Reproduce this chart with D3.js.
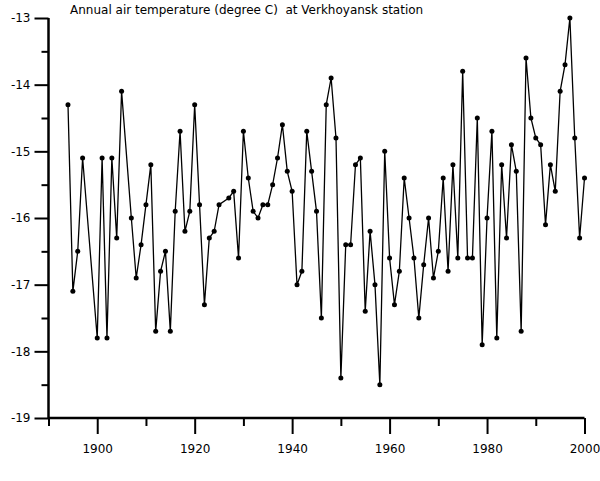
<!DOCTYPE html>
<html>
<head>
<meta charset="utf-8">
<script src="https://cdn.jsdelivr.net/npm/d3@7"></script>
<style>
  html, body { margin: 0; padding: 0; background: #fff; }
  svg { display: block; }
  text { font-family: "DejaVu Sans", Verdana, sans-serif; }
</style>
</head>
<body>
<svg id="chart" width="600" height="481"></svg>
<script>
const title = "Annual air temperature (degree C)  at Verkhoyansk station";

const years = [1894,1895,1896,1897,1900,1901,1902,1903,1904,1905,
  1907,1908,1909,1910,1911,1912,1913,1914,1915,1916,1917,1918,1919,1920,
  1921,1922,1923,1924,1925,1927,1928,1929,1930,1931,1932,1933,1934,1935,
  1936,1937,1938,1939,1940,1941,1942,1943,1944,1945,1946,1947,1948,1949,
  1950,1951,1952,1953,1954,1955,1956,1957,1958,1959,1960,1961,1962,1963,
  1964,1965,1966,1967,1968,1969,1970,1971,1972,1973,1974,1975,1976,1977,
  1978,1979,1980,1981,1982,1983,1984,1985,1986,1987,1988,1989,1990,1991,
  1992,1993,1994,1995,1996,1997,1998,1999,2000];

const temps = [-14.3,-17.1,-16.5,-15.1,-17.8,-15.1,-17.8,-15.1,-16.3,-14.1,
  -16.0,-16.9,-16.4,-15.8,-15.2,-17.7,-16.8,-16.5,-17.7,-15.9,-14.7,-16.2,-15.9,-14.3,
  -15.8,-17.3,-16.3,-16.2,-15.8,-15.7,-15.6,-16.6,-14.7,-15.4,-15.9,-16.0,-15.8,-15.8,
  -15.5,-15.1,-14.6,-15.3,-15.6,-17.0,-16.8,-14.7,-15.3,-15.9,-17.5,-14.3,-13.9,-14.8,
  -18.4,-16.4,-16.4,-15.2,-15.1,-17.4,-16.2,-17.0,-18.5,-15.0,-16.6,-17.3,-16.8,-15.4,
  -16.0,-16.6,-17.5,-16.7,-16.0,-16.9,-16.5,-15.4,-16.8,-15.2,-16.6,-13.8,-16.6,-16.6,
  -14.5,-17.9,-16.0,-14.7,-17.8,-15.2,-16.3,-14.9,-15.3,-17.7,-13.6,-14.5,-14.8,-14.9,
  -16.1,-15.2,-15.6,-14.1,-13.7,-13.0,-14.8,-16.3,-15.4];

const xMajorTicks = [1900,1920,1940,1960,1980,2000];
const xMinorTicks = [1890,1910,1930,1950,1970,1990];
const yMajorTicks = [-19,-18,-17,-16,-15,-14,-13];
const yMinorTicks = [-18.5,-17.5,-16.5,-15.5,-14.5,-13.5];

const data = years.map((y, i) => ({year: y, t: temps[i]}));

const svg = d3.select("#chart");
const x = d3.scaleLinear().domain([1890, 2000]).range([48.5, 584.5]);
const y = d3.scaleLinear().domain([-19, -13]).range([418, 18]);

const fmt = d => String(d);

// X axis
const gx = svg.append("g").attr("transform", "translate(0,418)");
gx.append("g").call(d3.axisBottom(x).tickValues(xMinorTicks).tickSize(8).tickFormat(""))
  .call(g => { g.select(".domain").remove(); g.selectAll("line").attr("stroke-width", 2).attr("stroke", "#000"); });
gx.append("g").call(d3.axisBottom(x).tickValues(xMajorTicks).tickSize(16).tickPadding(10).tickFormat(fmt))
  .call(g => {
    g.select(".domain").remove();
    g.selectAll("line").attr("stroke-width", 2).attr("stroke", "#000");
    g.selectAll("text").attr("font-size", 12).attr("fill", "#000")
      .style("font-family", '"DejaVu Sans", Verdana, sans-serif');
  });

// Y axis
const gy = svg.append("g").attr("transform", "translate(48.5,0)");
gy.append("g").call(d3.axisLeft(y).tickValues(yMinorTicks).tickSize(7).tickFormat(""))
  .call(g => { g.select(".domain").remove(); g.selectAll("line").attr("stroke-width", 2).attr("stroke", "#000"); });
gy.append("g").call(d3.axisLeft(y).tickValues(yMajorTicks).tickSize(14).tickPadding(4).tickFormat(fmt))
  .call(g => {
    g.select(".domain").remove();
    g.selectAll("line").attr("stroke-width", 2).attr("stroke", "#000");
    g.selectAll("text").attr("font-size", 12).attr("fill", "#000")
      .style("font-family", '"DejaVu Sans", Verdana, sans-serif');
  });

// Axis lines
svg.append("line").attr("x1", x(1890)).attr("x2", x(2000)).attr("y1", y(-19)).attr("y2", y(-19))
  .attr("stroke", "#000").attr("stroke-width", 2.5);
svg.append("line").attr("x1", x(1890)).attr("x2", x(1890)).attr("y1", y(-19)).attr("y2", y(-13))
  .attr("stroke", "#000").attr("stroke-width", 2.5);

// Line
const line = d3.line().x(d => x(d.year)).y(d => y(d.t));
svg.append("path").datum(data).attr("d", line)
  .attr("fill", "none").attr("stroke", "#000").attr("stroke-width", 1.3);

// Points
svg.append("g").selectAll("circle").data(data).join("circle")
  .attr("cx", d => x(d.year)).attr("cy", d => y(d.t)).attr("r", 2.5).attr("fill", "#000");

// Title
svg.append("text").attr("x", 70).attr("y", 14).attr("font-size", 12).attr("fill", "#000")
  .attr("xml:space", "preserve").style("white-space", "pre").text(title);
</script>
</body>
</html>
